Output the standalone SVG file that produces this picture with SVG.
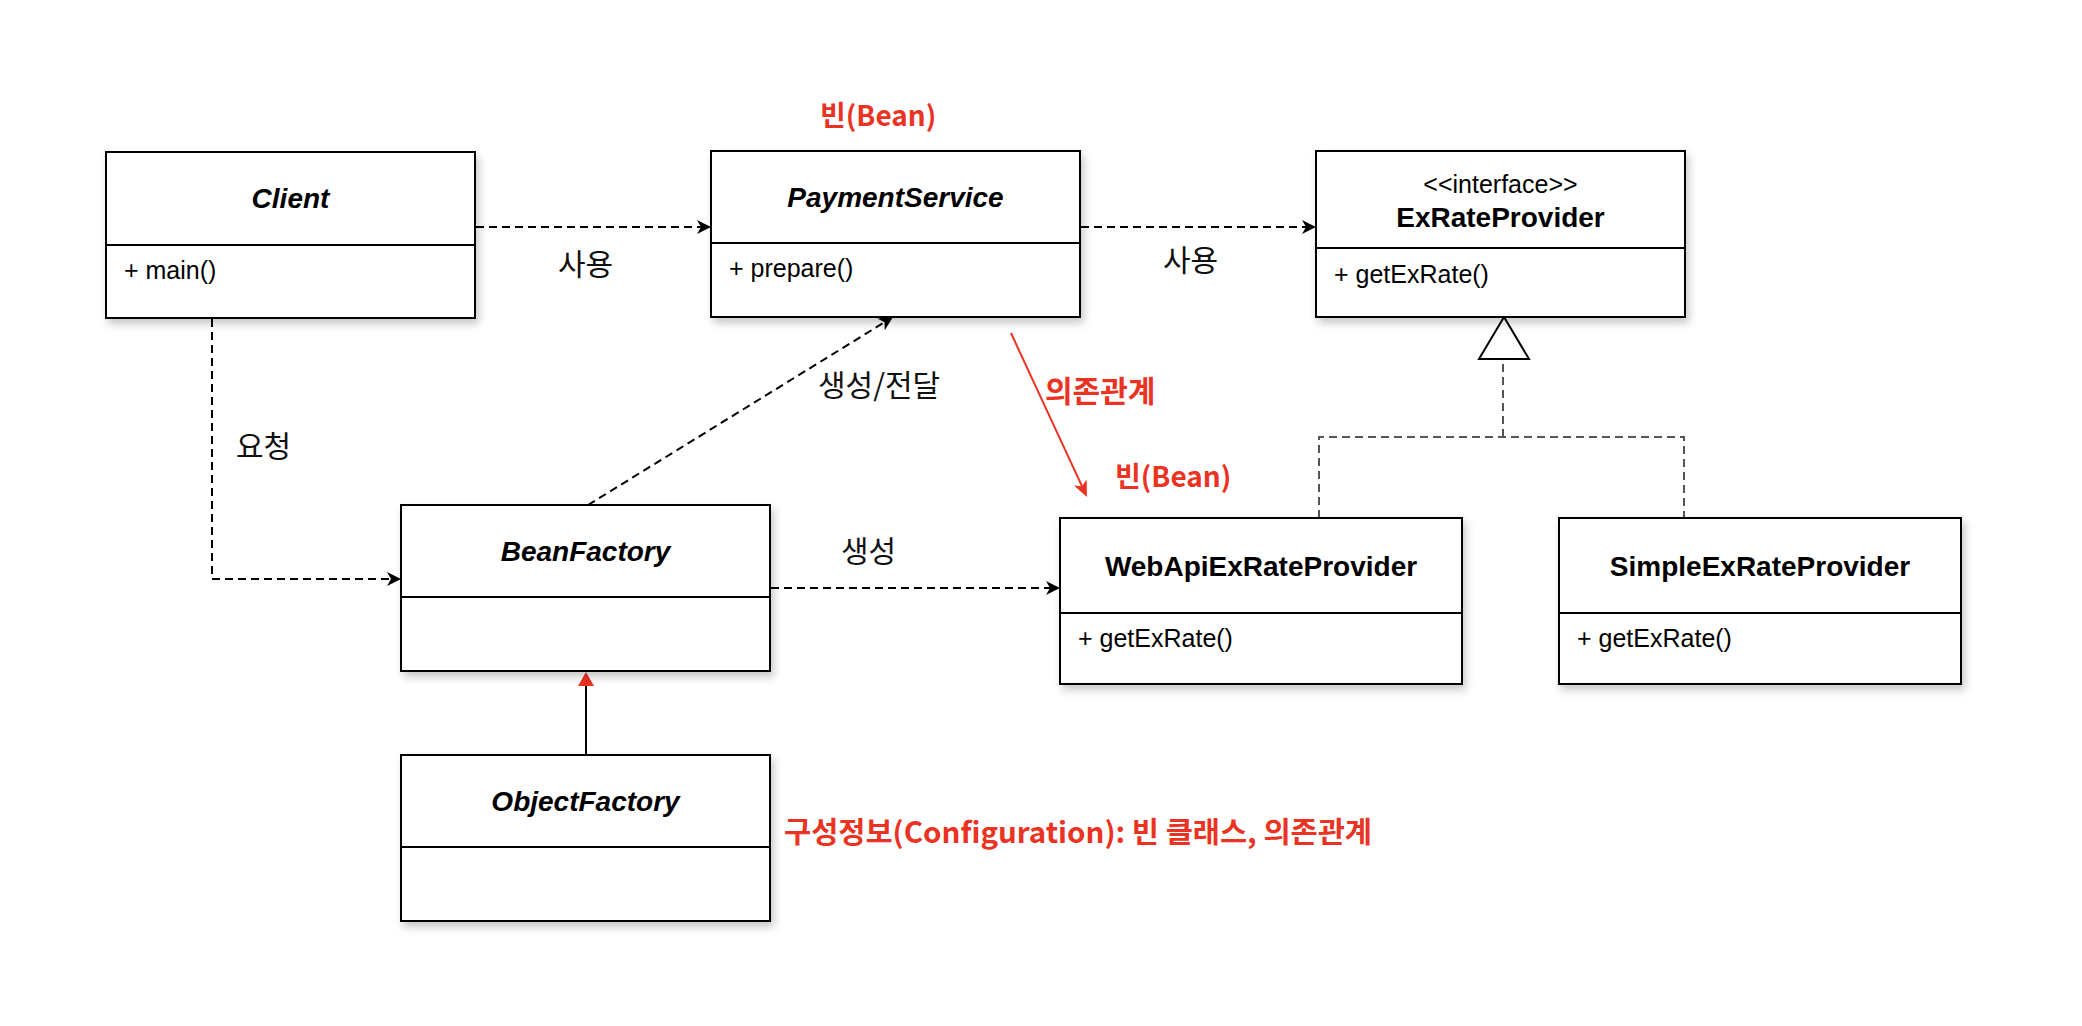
<svg xmlns="http://www.w3.org/2000/svg" width="2082" height="1026" viewBox="0 0 2082 1026">
<style>
.box{fill:#fff;stroke:#000;stroke-width:2;}
.div{stroke:#000;stroke-width:2;}
.title{font-family:"Liberation Sans",Arial,sans-serif;font-size:28px;font-weight:bold;font-style:italic;fill:#000;text-anchor:middle;}
.titleb{font-family:"Liberation Sans",Arial,sans-serif;font-size:28px;font-weight:bold;fill:#000;text-anchor:middle;}
.stereo{font-family:"Liberation Sans",Arial,sans-serif;font-size:25px;fill:#000;text-anchor:middle;}
.member{font-family:"Liberation Sans",Arial,sans-serif;font-size:25px;fill:#000;}
.lbl{font-family:"Noto Sans CJK KR","Liberation Sans",sans-serif;font-size:30px;fill:#111;}
.red{font-family:"Noto Sans CJK KR","Liberation Sans",sans-serif;font-size:28px;font-weight:bold;fill:#EA3323;}
.dash{fill:none;stroke:#000;stroke-width:2;stroke-dasharray:8 5;}
.gdash{fill:none;stroke:#555;stroke-width:2;stroke-dasharray:8 5;}
</style>
<defs>
<filter id="sh" x="-10%" y="-10%" width="120%" height="130%">
<feDropShadow dx="3" dy="5" stdDeviation="4" flood-color="#000" flood-opacity="0.22"/>
</filter>
<marker id="ab" markerUnits="userSpaceOnUse" markerWidth="14" markerHeight="14" refX="10" refY="7" orient="auto" overflow="visible">
<path d="M0,0 L14,7 L0,14 L4,7 z" fill="#000"/>
</marker>
<marker id="ar" markerUnits="userSpaceOnUse" markerWidth="16" markerHeight="14" refX="12" refY="7" orient="auto" overflow="visible">
<path d="M0,0 L16,7 L0,14 L4,7 z" fill="#EA3323"/>
</marker>
<marker id="tr" markerUnits="userSpaceOnUse" markerWidth="14" markerHeight="16" refX="10" refY="8" orient="auto" overflow="visible">
<path d="M0,0 L14,8 L0,16 z" fill="#EA3323"/>
</marker>
</defs>
<rect width="2082" height="1026" fill="#fff"/>

<g id="connectors">
<line class="dash" x1="476" y1="227" x2="707" y2="227" marker-end="url(#ab)"/>
<line class="dash" x1="1081" y1="227" x2="1312" y2="227" marker-end="url(#ab)"/>
<polyline class="dash" points="212,319 212,579 397,579" marker-end="url(#ab)"/>
<line class="dash" x1="588" y1="505" x2="889.6" y2="319.1" marker-end="url(#ab)"/>
<line class="dash" x1="771" y1="588" x2="1056" y2="588" marker-end="url(#ab)"/>
<polyline class="gdash" points="1319,518 1319,437 1684,437 1684,518"/>
<line class="gdash" x1="1503" y1="437" x2="1503" y2="359"/>
<polygon points="1504,317 1479,359 1529,359" fill="#fff" stroke="#000" stroke-width="2"/>
<line x1="1011" y1="333" x2="1085.3" y2="493.4" stroke="#EA3323" stroke-width="2" marker-end="url(#ar)"/>
<line x1="586" y1="755" x2="586" y2="676" stroke="#000" stroke-width="2" marker-end="url(#tr)"/>
</g>

<g id="client">
<rect class="box" x="106" y="152" width="369" height="166" filter="url(#sh)"/>
<line class="div" x1="106" y1="245" x2="475" y2="245"/>
<text class="title" x="290.5" y="208">Client</text>
<text class="member" x="124" y="279">+ main()</text>
</g>

<g id="paymentService">
<rect class="box" x="711" y="151" width="369" height="166" filter="url(#sh)"/>
<line class="div" x1="711" y1="243" x2="1080" y2="243"/>
<text class="title" x="895.5" y="207">PaymentService</text>
<text class="member" x="729" y="277">+ prepare()</text>
</g>

<g id="exRateProvider">
<rect class="box" x="1316" y="151" width="369" height="166" filter="url(#sh)"/>
<line class="div" x1="1316" y1="248" x2="1685" y2="248"/>
<text class="stereo" x="1500.5" y="193">&lt;&lt;interface&gt;&gt;</text>
<text class="titleb" x="1500.5" y="227">ExRateProvider</text>
<text class="member" x="1334" y="283">+ getExRate()</text>
</g>

<g id="beanFactory">
<rect class="box" x="401" y="505" width="369" height="166" filter="url(#sh)"/>
<line class="div" x1="401" y1="597" x2="770" y2="597"/>
<text class="title" x="585.5" y="561">BeanFactory</text>
</g>

<g id="objectFactory">
<rect class="box" x="401" y="755" width="369" height="166" filter="url(#sh)"/>
<line class="div" x1="401" y1="847" x2="770" y2="847"/>
<text class="title" x="585.5" y="811">ObjectFactory</text>
</g>

<g id="webApiExRateProvider">
<rect class="box" x="1060" y="518" width="402" height="166" filter="url(#sh)"/>
<line class="div" x1="1060" y1="613" x2="1462" y2="613"/>
<text class="titleb" x="1261" y="576">WebApiExRateProvider</text>
<text class="member" x="1078" y="647">+ getExRate()</text>
</g>

<g id="simpleExRateProvider">
<rect class="box" x="1559" y="518" width="402" height="166" filter="url(#sh)"/>
<line class="div" x1="1559" y1="613" x2="1961" y2="613"/>
<text class="titleb" x="1760" y="576">SimpleExRateProvider</text>
<text class="member" x="1577" y="647">+ getExRate()</text>
</g>

<g id="labels">
<text class="lbl" x="558" y="275">사용</text>
<text class="lbl" x="1163" y="271">사용</text>
<text class="lbl" x="236" y="457">요청</text>
<text class="lbl" x="818" y="396">생성/전달</text>
<text class="lbl" x="841" y="562">생성</text>
<text class="red" x="820" y="126">빈(Bean)</text>
<text class="red" x="1045" y="402" style="font-size:30px">의존관계</text>
<text class="red" x="1115" y="487">빈(Bean)</text>
<text class="red" x="784" y="843" style="font-size:29px" textLength="588" lengthAdjust="spacingAndGlyphs">구성정보(Configuration): 빈 클래스, 의존관계</text>
</g>
</svg>
